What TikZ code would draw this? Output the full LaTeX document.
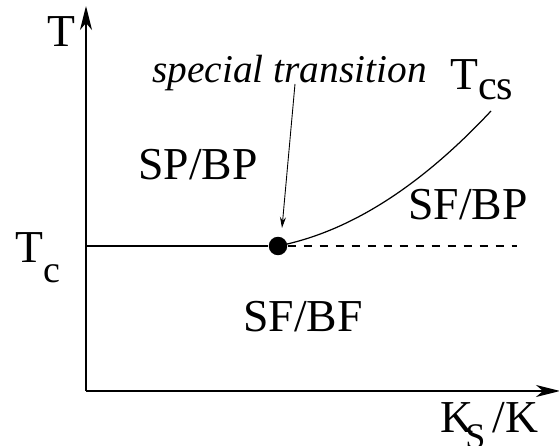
\documentclass[tikz,border=0pt]{standalone}
\usepackage{fontspec}
\setmainfont{Liberation Serif}
\usetikzlibrary{arrows.meta}

\begin{document}
\begin{tikzpicture}[
  x=0.02cm, y=-0.02cm,
  lbl/.style={anchor=base west,inner sep=0pt,font=\fontsize{26}{30}\selectfont},
  note/.style={anchor=base west,inner sep=0pt,font=\fontsize{22.4}{26}\selectfont\itshape},
  axis/.style={line width=0.9pt,-{Stealth[length=4.8mm,width=2.4mm,inset=1.4mm]}},
  ar/.style={-{Stealth[length=2.2mm,width=1.2mm]},line width=0.5pt},
  phase/.style={line width=0.7pt},
  dot/.style={circle,fill,inner sep=0pt,minimum size=0.37cm}
]
\useasboundingbox (0,0) rectangle (559,446);

% axes
\coordinate (o) at (86,391);
\coordinate (ytip) at (86,6);
\coordinate (xtip) at (560,391);
\draw[axis] (o) -- (ytip);
\draw[axis] (o) -- (xtip);

% phase boundaries
\node[dot] (sp) at (278,246) {};
\coordinate (tcl) at (86,246);
\coordinate (dend) at (517,246);
\coordinate (cend) at (491,111);
\draw[line width=0.6pt] (tcl) -- (sp);
\draw[line width=0.6pt,dash pattern=on 0.16cm off 0.16cm] (sp) -- (dend);
\draw[phase] (sp.center) .. controls (349,232) and (420,187) .. (cend);

% labels
\node[lbl] (tlab) at (47,47) {T};
\node[note] (spec) at (152,83) {special transition};
\node[lbl] (tcs) at (450,90) {T\raisebox{-0.2cm}{\fontsize{24}{26}\selectfont cs}};
\node[lbl] (spbp) at (138,180) {SP/BP};
\node[lbl] (sfbp) at (408,220) {SF/BP};
\node[lbl] (sfbf) at (243,332) {SF/BF};
\node[lbl] (tc) at (15,263) {T\raisebox{-0.4cm}{\fontsize{21.6}{24}\selectfont c}};
\node[lbl] (ks) at (440,433) {K\kern-0.16cm\raisebox{-0.32cm}{\fontsize{20.5}{22}\selectfont S}\kern0.14cm/K};

\coordinate (arrs) at (295,84);
\coordinate (arre) at (282,228);
\draw[ar] (arrs) -- (arre);
\end{tikzpicture}
\end{document}
